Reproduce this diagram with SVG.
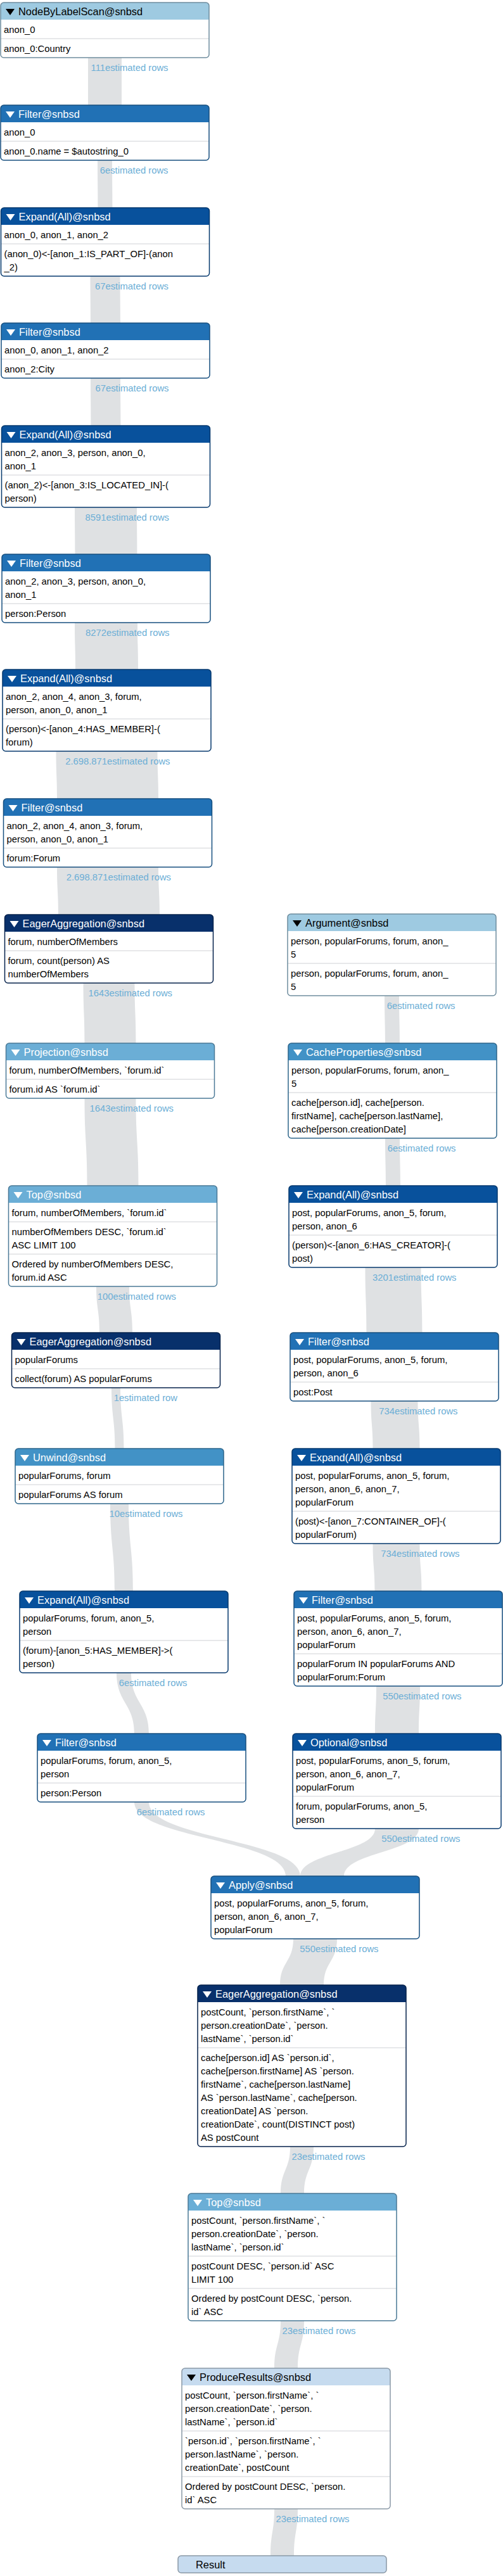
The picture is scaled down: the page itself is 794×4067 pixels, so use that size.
<svg xmlns="http://www.w3.org/2000/svg" xmlns:xlink="http://www.w3.org/1999/xlink" width="794" height="4067" viewBox="0 0 794 4067">
<style>
text{font-family:"Liberation Sans",Arial,Helvetica,sans-serif}
.tt{font-size:16.4px;fill:#fff}
.d{font-size:14.8px;fill:#000}
.lb{font-size:14.8px;fill:#6baed6;text-anchor:end}
.lk{fill:#dfe1e3}
.bd{fill:#fff}
.sep{stroke:#dfe1e3;stroke-width:1.5}
.ol{fill:none;stroke-width:1.5}
.tri{fill:#fff}
.k0 .hd{fill:#c6dbef}.k0 .ol{stroke:#8b99a7}.k0 .tt,.k0 .tri{fill:#000}
.k1 .hd{fill:#9ecae1}.k1 .ol{stroke:#6f8d9e}.k1 .tt,.k1 .tri{fill:#000}
.k2 .hd{fill:#6baed6}.k2 .ol{stroke:#4b7a96}
.k3 .hd{fill:#4292c6}.k3 .ol{stroke:#2e668b}
.k4 .hd{fill:#2171b5}.k4 .ol{stroke:#174f7f}
.k5 .hd{fill:#08519c}.k5 .ol{stroke:#06396d}
.k6 .hd{fill:#08306b}.k6 .ol{stroke:#06224b}
</style>
<defs>
<path id="hd" d="M0,27V5A5,5 0 0 1 5,0H324A5,5 0 0 1 329,5V27Z"/>
<path id="tri" d="M8,10H22L15,20Z"/>
</defs>
<rect width="794" height="4067" fill="#fff"/>
<g id="connectors">
<path class="lk" d="M139,88V169H192V88Z"/>
<path class="lk" d="M154,250V253C154,290.5 154.5,290.5 154.5,328V331H177.5V328C177.5,290.5 177,290.5 177,253V250Z"/>
<path class="lk" d="M142.5,433V436C142.5,473 143,473 143,510V513H190V510C190,473 189.5,473 189.5,436V433Z"/>
<path class="lk" d="M143,594V597C143,634.5 143.5,634.5 143.5,672V675H190.5V672C190.5,634.5 190,634.5 190,597V594Z"/>
<path class="lk" d="M118,798V801C118,838 118.5,838 118.5,875V878H216.5V875C216.5,838 216,838 216,801V798Z"/>
<path class="lk" d="M118,980V983C118,1020 119,1020 119,1057V1060H218V1057C218,1020 217,1020 217,983V980Z"/>
<path class="lk" d="M88.5,1183V1186C88.5,1223.5 90,1223.5 90,1261V1264H250V1261C250,1223.5 248.5,1223.5 248.5,1186V1183Z"/>
<path class="lk" d="M90,1366V1369C90,1406.5 92,1406.5 92,1444V1447H252V1444C252,1406.5 250,1406.5 250,1369V1366Z"/>
<path class="lk" d="M131.5,1549V1552C131.5,1599.5 133.5,1599.5 133.5,1647V1650H214.5V1647C214.5,1599.5 212.5,1599.5 212.5,1552V1549Z"/>
<path class="lk" d="M133.5,1731V1734C133.5,1803 137.5,1803 137.5,1872V1875H218.5V1872C218.5,1803 214.5,1803 214.5,1734V1731Z"/>
<path class="lk" d="M152,2028V2031C152,2067.5 157,2067.5 157,2104V2107H209V2104C209,2067.5 204,2067.5 204,2031V2028Z"/>
<path class="lk" d="M176,2188V2191C176,2239 181.5,2239 181.5,2287V2290H195.5V2287C195.5,2239 190,2239 190,2191V2188Z"/>
<path class="lk" d="M174,2371V2374C174,2443 181,2443 181,2512V2515H210V2512C210,2443 203,2443 203,2374V2371Z"/>
<path class="lk" d="M184,2638V2641C184,2689 212,2689 212,2737V2740H235V2737C235,2689 207,2689 207,2641V2638Z"/>
<path class="lk" d="M212,2842V2845C212,2903.5 451,2903.5 451,2962V2965H474V2962C474,2903.5 235,2903.5 235,2845V2842Z"/>
<path class="lk" d="M607,1569V1572C607,1609.5 608,1609.5 608,1647V1650H631V1647C631,1609.5 630,1609.5 630,1572V1569Z"/>
<path class="lk" d="M608,1794V1797C608,1834.5 609,1834.5 609,1872V1875H632V1872C632,1834.5 631,1834.5 631,1797V1794Z"/>
<path class="lk" d="M576.5,1998V2001C576.5,2052.5 578.5,2052.5 578.5,2104V2107H666.5V2104C666.5,2052.5 664.5,2052.5 664.5,2001V1998Z"/>
<path class="lk" d="M585.5,2209V2212C585.5,2249.5 588.5,2249.5 588.5,2287V2290H662.5V2287C662.5,2249.5 659.5,2249.5 659.5,2212V2209Z"/>
<path class="lk" d="M588.5,2434V2437C588.5,2474.5 591.5,2474.5 591.5,2512V2515H665.5V2512C665.5,2474.5 662.5,2474.5 662.5,2437V2434Z"/>
<path class="lk" d="M594,2659V2662C594,2699.5 592,2699.5 592,2737V2740H661V2737C661,2699.5 663,2699.5 663,2662V2659Z"/>
<path class="lk" d="M592,2884V2887C592,2924.5 474,2924.5 474,2962V2965H543V2962C543,2924.5 661,2924.5 661,2887V2884Z"/>
<path class="lk" d="M463,3058V3061C463,3097.5 442,3097.5 442,3134V3137H511V3134C511,3097.5 532,3097.5 532,3061V3058Z"/>
<path class="lk" d="M458,3386V3389C458,3426 443,3426 443,3463V3466H480V3463C480,3426 495,3426 495,3389V3386Z"/>
<path class="lk" d="M443,3661V3664C443,3701.5 433,3701.5 433,3739V3742H470V3739C470,3701.5 480,3701.5 480,3664V3661Z"/>
<path class="lk" d="M433,3958V3961C433,3998 427,3998 427,4035V4038H464V4035C464,3998 470,3998 470,3961V3958Z"/>
<text class="lb" x="265.5" y="111.5">111estimated rows</text>
<text class="lb" x="265.5" y="273.5">6estimated rows</text>
<text class="lb" x="266" y="456.5">67estimated rows</text>
<text class="lb" x="266.5" y="617.5">67estimated rows</text>
<text class="lb" x="267" y="821.5">8591estimated rows</text>
<text class="lb" x="267.5" y="1003.5">8272estimated rows</text>
<text class="lb" x="268.5" y="1206.5">2.698.871estimated rows</text>
<text class="lb" x="270" y="1389.5">2.698.871estimated rows</text>
<text class="lb" x="272" y="1572.5">1643estimated rows</text>
<text class="lb" x="274" y="1754.5">1643estimated rows</text>
<text class="lb" x="278" y="2051.5">100estimated rows</text>
<text class="lb" x="280" y="2211.5">1estimated row</text>
<text class="lb" x="288.5" y="2394.5">10estimated rows</text>
<text class="lb" x="295.5" y="2661.5">6estimated rows</text>
<text class="lb" x="323.5" y="2865.5">6estimated rows</text>
<text class="lb" x="718.5" y="1592.5">6estimated rows</text>
<text class="lb" x="719.5" y="1817.5">6estimated rows</text>
<text class="lb" x="720.5" y="2021.5">3201estimated rows</text>
<text class="lb" x="722.5" y="2232.5">734estimated rows</text>
<text class="lb" x="725.5" y="2457.5">734estimated rows</text>
<text class="lb" x="728.5" y="2682.5">550estimated rows</text>
<text class="lb" x="726.5" y="2907.5">550estimated rows</text>
<text class="lb" x="597.5" y="3081.5">550estimated rows</text>
<text class="lb" x="576.5" y="3409.5">23estimated rows</text>
<text class="lb" x="561.5" y="3684.5">23estimated rows</text>
<text class="lb" x="551.5" y="3981.5">23estimated rows</text>
</g>
<g id="n0" class="k1" transform="translate(1,4)"><rect class="bd" width="329" height="87" rx="5"/><use href="#hd" class="hd"/><use href="#tri" class="tri"/><text class="tt" x="28" y="20">NodeByLabelScan@snbsd</text><line class="sep" x1="0" y1="57" x2="329" y2="57"/><text class="d" x="5" y="47.5">anon_0</text><text class="d" x="5" y="77.5">anon_0:Country</text><rect class="ol" width="329" height="87" rx="5"/></g>
<g id="n1" class="k4" transform="translate(1,166)"><rect class="bd" width="329" height="87" rx="5"/><use href="#hd" class="hd"/><use href="#tri" class="tri"/><text class="tt" x="28" y="20">Filter@snbsd</text><line class="sep" x1="0" y1="57" x2="329" y2="57"/><text class="d" x="5" y="47.5">anon_0</text><text class="d" x="5" y="77.5">anon_0.name = $autostring_0</text><rect class="ol" width="329" height="87" rx="5"/></g>
<g id="n2" class="k5" transform="translate(1.5,328)"><rect class="bd" width="329" height="108" rx="5"/><use href="#hd" class="hd"/><use href="#tri" class="tri"/><text class="tt" x="28" y="20">Expand(All)@snbsd</text><line class="sep" x1="0" y1="57" x2="329" y2="57"/><text class="d" x="5" y="47.5">anon_0, anon_1, anon_2</text><text class="d" x="5" y="77.5">(anon_0)&lt;-[anon_1:IS_PART_OF]-(anon</text><text class="d" x="5" y="98.5">_2)</text><rect class="ol" width="329" height="108" rx="5"/></g>
<g id="n3" class="k4" transform="translate(2,510)"><rect class="bd" width="329" height="87" rx="5"/><use href="#hd" class="hd"/><use href="#tri" class="tri"/><text class="tt" x="28" y="20">Filter@snbsd</text><line class="sep" x1="0" y1="57" x2="329" y2="57"/><text class="d" x="5" y="47.5">anon_0, anon_1, anon_2</text><text class="d" x="5" y="77.5">anon_2:City</text><rect class="ol" width="329" height="87" rx="5"/></g>
<g id="n4" class="k5" transform="translate(2.5,672)"><rect class="bd" width="329" height="129" rx="5"/><use href="#hd" class="hd"/><use href="#tri" class="tri"/><text class="tt" x="28" y="20">Expand(All)@snbsd</text><line class="sep" x1="0" y1="78" x2="329" y2="78"/><text class="d" x="5" y="47.5">anon_2, anon_3, person, anon_0,</text><text class="d" x="5" y="68.5">anon_1</text><text class="d" x="5" y="98.5">(anon_2)&lt;-[anon_3:IS_LOCATED_IN]-(</text><text class="d" x="5" y="119.5">person)</text><rect class="ol" width="329" height="129" rx="5"/></g>
<g id="n5" class="k4" transform="translate(3,875)"><rect class="bd" width="329" height="108" rx="5"/><use href="#hd" class="hd"/><use href="#tri" class="tri"/><text class="tt" x="28" y="20">Filter@snbsd</text><line class="sep" x1="0" y1="78" x2="329" y2="78"/><text class="d" x="5" y="47.5">anon_2, anon_3, person, anon_0,</text><text class="d" x="5" y="68.5">anon_1</text><text class="d" x="5" y="98.5">person:Person</text><rect class="ol" width="329" height="108" rx="5"/></g>
<g id="n6" class="k5" transform="translate(4,1057)"><rect class="bd" width="329" height="129" rx="5"/><use href="#hd" class="hd"/><use href="#tri" class="tri"/><text class="tt" x="28" y="20">Expand(All)@snbsd</text><line class="sep" x1="0" y1="78" x2="329" y2="78"/><text class="d" x="5" y="47.5">anon_2, anon_4, anon_3, forum,</text><text class="d" x="5" y="68.5">person, anon_0, anon_1</text><text class="d" x="5" y="98.5">(person)&lt;-[anon_4:HAS_MEMBER]-(</text><text class="d" x="5" y="119.5">forum)</text><rect class="ol" width="329" height="129" rx="5"/></g>
<g id="n7" class="k4" transform="translate(5.5,1261)"><rect class="bd" width="329" height="108" rx="5"/><use href="#hd" class="hd"/><use href="#tri" class="tri"/><text class="tt" x="28" y="20">Filter@snbsd</text><line class="sep" x1="0" y1="78" x2="329" y2="78"/><text class="d" x="5" y="47.5">anon_2, anon_4, anon_3, forum,</text><text class="d" x="5" y="68.5">person, anon_0, anon_1</text><text class="d" x="5" y="98.5">forum:Forum</text><rect class="ol" width="329" height="108" rx="5"/></g>
<g id="n8" class="k6" transform="translate(7.5,1444)"><rect class="bd" width="329" height="108" rx="5"/><use href="#hd" class="hd"/><use href="#tri" class="tri"/><text class="tt" x="28" y="20">EagerAggregation@snbsd</text><line class="sep" x1="0" y1="57" x2="329" y2="57"/><text class="d" x="5" y="47.5">forum, numberOfMembers</text><text class="d" x="5" y="77.5">forum, count(person) AS</text><text class="d" x="5" y="98.5">numberOfMembers</text><rect class="ol" width="329" height="108" rx="5"/></g>
<g id="n9" class="k2" transform="translate(9.5,1647)"><rect class="bd" width="329" height="87" rx="5"/><use href="#hd" class="hd"/><use href="#tri" class="tri"/><text class="tt" x="28" y="20">Projection@snbsd</text><line class="sep" x1="0" y1="57" x2="329" y2="57"/><text class="d" x="5" y="47.5">forum, numberOfMembers, `forum.id`</text><text class="d" x="5" y="77.5">forum.id AS `forum.id`</text><rect class="ol" width="329" height="87" rx="5"/></g>
<g id="n10" class="k2" transform="translate(13.5,1872)"><rect class="bd" width="329" height="159" rx="5"/><use href="#hd" class="hd"/><use href="#tri" class="tri"/><text class="tt" x="28" y="20">Top@snbsd</text><line class="sep" x1="0" y1="57" x2="329" y2="57"/><line class="sep" x1="0" y1="108" x2="329" y2="108"/><text class="d" x="5" y="47.5">forum, numberOfMembers, `forum.id`</text><text class="d" x="5" y="77.5">numberOfMembers DESC, `forum.id`</text><text class="d" x="5" y="98.5">ASC LIMIT 100</text><text class="d" x="5" y="128.5">Ordered by numberOfMembers DESC,</text><text class="d" x="5" y="149.5">forum.id ASC</text><rect class="ol" width="329" height="159" rx="5"/></g>
<g id="n11" class="k6" transform="translate(18.5,2104)"><rect class="bd" width="329" height="87" rx="5"/><use href="#hd" class="hd"/><use href="#tri" class="tri"/><text class="tt" x="28" y="20">EagerAggregation@snbsd</text><line class="sep" x1="0" y1="57" x2="329" y2="57"/><text class="d" x="5" y="47.5">popularForums</text><text class="d" x="5" y="77.5">collect(forum) AS popularForums</text><rect class="ol" width="329" height="87" rx="5"/></g>
<g id="n12" class="k3" transform="translate(24,2287)"><rect class="bd" width="329" height="87" rx="5"/><use href="#hd" class="hd"/><use href="#tri" class="tri"/><text class="tt" x="28" y="20">Unwind@snbsd</text><line class="sep" x1="0" y1="57" x2="329" y2="57"/><text class="d" x="5" y="47.5">popularForums, forum</text><text class="d" x="5" y="77.5">popularForums AS forum</text><rect class="ol" width="329" height="87" rx="5"/></g>
<g id="n13" class="k5" transform="translate(31,2512)"><rect class="bd" width="329" height="129" rx="5"/><use href="#hd" class="hd"/><use href="#tri" class="tri"/><text class="tt" x="28" y="20">Expand(All)@snbsd</text><line class="sep" x1="0" y1="78" x2="329" y2="78"/><text class="d" x="5" y="47.5">popularForums, forum, anon_5,</text><text class="d" x="5" y="68.5">person</text><text class="d" x="5" y="98.5">(forum)-[anon_5:HAS_MEMBER]-&gt;(</text><text class="d" x="5" y="119.5">person)</text><rect class="ol" width="329" height="129" rx="5"/></g>
<g id="n14" class="k4" transform="translate(59,2737)"><rect class="bd" width="329" height="108" rx="5"/><use href="#hd" class="hd"/><use href="#tri" class="tri"/><text class="tt" x="28" y="20">Filter@snbsd</text><line class="sep" x1="0" y1="78" x2="329" y2="78"/><text class="d" x="5" y="47.5">popularForums, forum, anon_5,</text><text class="d" x="5" y="68.5">person</text><text class="d" x="5" y="98.5">person:Person</text><rect class="ol" width="329" height="108" rx="5"/></g>
<g id="n15" class="k1" transform="translate(454,1443)"><rect class="bd" width="329" height="129" rx="5"/><use href="#hd" class="hd"/><use href="#tri" class="tri"/><text class="tt" x="28" y="20">Argument@snbsd</text><line class="sep" x1="0" y1="78" x2="329" y2="78"/><text class="d" x="5" y="47.5">person, popularForums, forum, anon_</text><text class="d" x="5" y="68.5">5</text><text class="d" x="5" y="98.5">person, popularForums, forum, anon_</text><text class="d" x="5" y="119.5">5</text><rect class="ol" width="329" height="129" rx="5"/></g>
<g id="n16" class="k3" transform="translate(455,1647)"><rect class="bd" width="329" height="150" rx="5"/><use href="#hd" class="hd"/><use href="#tri" class="tri"/><text class="tt" x="28" y="20">CacheProperties@snbsd</text><line class="sep" x1="0" y1="78" x2="329" y2="78"/><text class="d" x="5" y="47.5">person, popularForums, forum, anon_</text><text class="d" x="5" y="68.5">5</text><text class="d" x="5" y="98.5">cache[person.id], cache[person.</text><text class="d" x="5" y="119.5">firstName], cache[person.lastName],</text><text class="d" x="5" y="140.5">cache[person.creationDate]</text><rect class="ol" width="329" height="150" rx="5"/></g>
<g id="n17" class="k5" transform="translate(456,1872)"><rect class="bd" width="329" height="129" rx="5"/><use href="#hd" class="hd"/><use href="#tri" class="tri"/><text class="tt" x="28" y="20">Expand(All)@snbsd</text><line class="sep" x1="0" y1="78" x2="329" y2="78"/><text class="d" x="5" y="47.5">post, popularForums, anon_5, forum,</text><text class="d" x="5" y="68.5">person, anon_6</text><text class="d" x="5" y="98.5">(person)&lt;-[anon_6:HAS_CREATOR]-(</text><text class="d" x="5" y="119.5">post)</text><rect class="ol" width="329" height="129" rx="5"/></g>
<g id="n18" class="k4" transform="translate(458,2104)"><rect class="bd" width="329" height="108" rx="5"/><use href="#hd" class="hd"/><use href="#tri" class="tri"/><text class="tt" x="28" y="20">Filter@snbsd</text><line class="sep" x1="0" y1="78" x2="329" y2="78"/><text class="d" x="5" y="47.5">post, popularForums, anon_5, forum,</text><text class="d" x="5" y="68.5">person, anon_6</text><text class="d" x="5" y="98.5">post:Post</text><rect class="ol" width="329" height="108" rx="5"/></g>
<g id="n19" class="k5" transform="translate(461,2287)"><rect class="bd" width="329" height="150" rx="5"/><use href="#hd" class="hd"/><use href="#tri" class="tri"/><text class="tt" x="28" y="20">Expand(All)@snbsd</text><line class="sep" x1="0" y1="99" x2="329" y2="99"/><text class="d" x="5" y="47.5">post, popularForums, anon_5, forum,</text><text class="d" x="5" y="68.5">person, anon_6, anon_7,</text><text class="d" x="5" y="89.5">popularForum</text><text class="d" x="5" y="119.5">(post)&lt;-[anon_7:CONTAINER_OF]-(</text><text class="d" x="5" y="140.5">popularForum)</text><rect class="ol" width="329" height="150" rx="5"/></g>
<g id="n20" class="k4" transform="translate(464,2512)"><rect class="bd" width="329" height="150" rx="5"/><use href="#hd" class="hd"/><use href="#tri" class="tri"/><text class="tt" x="28" y="20">Filter@snbsd</text><line class="sep" x1="0" y1="99" x2="329" y2="99"/><text class="d" x="5" y="47.5">post, popularForums, anon_5, forum,</text><text class="d" x="5" y="68.5">person, anon_6, anon_7,</text><text class="d" x="5" y="89.5">popularForum</text><text class="d" x="5" y="119.5">popularForum IN popularForums AND</text><text class="d" x="5" y="140.5">popularForum:Forum</text><rect class="ol" width="329" height="150" rx="5"/></g>
<g id="n21" class="k5" transform="translate(462,2737)"><rect class="bd" width="329" height="150" rx="5"/><use href="#hd" class="hd"/><use href="#tri" class="tri"/><text class="tt" x="28" y="20">Optional@snbsd</text><line class="sep" x1="0" y1="99" x2="329" y2="99"/><text class="d" x="5" y="47.5">post, popularForums, anon_5, forum,</text><text class="d" x="5" y="68.5">person, anon_6, anon_7,</text><text class="d" x="5" y="89.5">popularForum</text><text class="d" x="5" y="119.5">forum, popularForums, anon_5,</text><text class="d" x="5" y="140.5">person</text><rect class="ol" width="329" height="150" rx="5"/></g>
<g id="n22" class="k4" transform="translate(333,2962)"><rect class="bd" width="329" height="99" rx="5"/><use href="#hd" class="hd"/><use href="#tri" class="tri"/><text class="tt" x="28" y="20">Apply@snbsd</text><text class="d" x="5" y="47.5">post, popularForums, anon_5, forum,</text><text class="d" x="5" y="68.5">person, anon_6, anon_7,</text><text class="d" x="5" y="89.5">popularForum</text><rect class="ol" width="329" height="99" rx="5"/></g>
<g id="n23" class="k6" transform="translate(312,3134)"><rect class="bd" width="329" height="255" rx="5"/><use href="#hd" class="hd"/><use href="#tri" class="tri"/><text class="tt" x="28" y="20">EagerAggregation@snbsd</text><line class="sep" x1="0" y1="99" x2="329" y2="99"/><text class="d" x="5" y="47.5">postCount, `person.firstName`, `</text><text class="d" x="5" y="68.5">person.creationDate`, `person.</text><text class="d" x="5" y="89.5">lastName`, `person.id`</text><text class="d" x="5" y="119.5">cache[person.id] AS `person.id`,</text><text class="d" x="5" y="140.5">cache[person.firstName] AS `person.</text><text class="d" x="5" y="161.5">firstName`, cache[person.lastName]</text><text class="d" x="5" y="182.5">AS `person.lastName`, cache[person.</text><text class="d" x="5" y="203.5">creationDate] AS `person.</text><text class="d" x="5" y="224.5">creationDate`, count(DISTINCT post)</text><text class="d" x="5" y="245.5">AS postCount</text><rect class="ol" width="329" height="255" rx="5"/></g>
<g id="n24" class="k2" transform="translate(297,3463)"><rect class="bd" width="329" height="201" rx="5"/><use href="#hd" class="hd"/><use href="#tri" class="tri"/><text class="tt" x="28" y="20">Top@snbsd</text><line class="sep" x1="0" y1="99" x2="329" y2="99"/><line class="sep" x1="0" y1="150" x2="329" y2="150"/><text class="d" x="5" y="47.5">postCount, `person.firstName`, `</text><text class="d" x="5" y="68.5">person.creationDate`, `person.</text><text class="d" x="5" y="89.5">lastName`, `person.id`</text><text class="d" x="5" y="119.5">postCount DESC, `person.id` ASC</text><text class="d" x="5" y="140.5">LIMIT 100</text><text class="d" x="5" y="170.5">Ordered by postCount DESC, `person.</text><text class="d" x="5" y="191.5">id` ASC</text><rect class="ol" width="329" height="201" rx="5"/></g>
<g id="n25" class="k0" transform="translate(287,3739)"><rect class="bd" width="329" height="222" rx="5"/><use href="#hd" class="hd"/><use href="#tri" class="tri"/><text class="tt" x="28" y="20">ProduceResults@snbsd</text><line class="sep" x1="0" y1="99" x2="329" y2="99"/><line class="sep" x1="0" y1="171" x2="329" y2="171"/><text class="d" x="5" y="47.5">postCount, `person.firstName`, `</text><text class="d" x="5" y="68.5">person.creationDate`, `person.</text><text class="d" x="5" y="89.5">lastName`, `person.id`</text><text class="d" x="5" y="119.5">`person.id`, `person.firstName`, `</text><text class="d" x="5" y="140.5">person.lastName`, `person.</text><text class="d" x="5" y="161.5">creationDate`, postCount</text><text class="d" x="5" y="191.5">Ordered by postCount DESC, `person.</text><text class="d" x="5" y="212.5">id` ASC</text><rect class="ol" width="329" height="222" rx="5"/></g>
<g id="n26" class="k0" transform="translate(281,4035)"><rect width="329" height="27" rx="5" fill="#c6dbef"/><text class="tt" x="28" y="20">Result</text><rect class="ol" width="329" height="27" rx="5"/></g>
</svg>
